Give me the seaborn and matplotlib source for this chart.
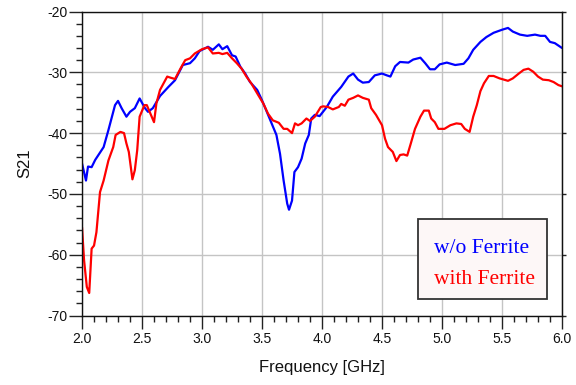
import numpy as np
import pandas as pd
import seaborn as sns
import matplotlib.pyplot as plt
from matplotlib.ticker import MultipleLocator, FormatStrFormatter
from matplotlib.patches import Rectangle

# S21 without ferrite (frequency in GHz, S21 in dB)
freq_wo = [2.00, 2.033, 2.05, 2.08, 2.11, 2.18, 2.22, 2.275, 2.30, 2.33,
           2.37, 2.40, 2.44, 2.48, 2.525, 2.55, 2.59, 2.65, 2.72, 2.775,
           2.84, 2.90, 2.94, 2.98, 3.05, 3.09, 3.14, 3.17, 3.21, 3.25,
           3.28, 3.32, 3.36, 3.40, 3.46, 3.50, 3.54, 3.58, 3.62, 3.65,
           3.68, 3.71, 3.725, 3.75, 3.77, 3.80, 3.83, 3.86, 3.89, 3.91,
           3.94, 3.98, 4.04, 4.09, 4.16, 4.22, 4.26, 4.30, 4.34, 4.39,
           4.44, 4.50, 4.54, 4.57, 4.61, 4.65, 4.72, 4.76, 4.82, 4.86,
           4.90, 4.94, 4.98, 5.04, 5.11, 5.18, 5.22, 5.26, 5.32, 5.37,
           5.43, 5.50, 5.55, 5.59, 5.65, 5.71, 5.775, 5.82, 5.86, 5.90,
           5.94, 6.00]
s21_wo = [-45.0, -47.8, -45.5, -45.6, -44.4, -42.3, -39.5, -35.4, -34.7, -35.9,
          -37.3, -36.5, -35.9, -34.3, -35.9, -36.5, -35.9, -33.9, -32.4, -31.3,
          -28.8, -28.5, -27.7, -26.5, -25.8, -26.3, -25.4, -26.2, -25.7, -27.2,
          -27.4, -29.1, -30.2, -31.6, -32.9, -34.6, -36.5, -38.4, -40.3, -43.4,
          -47.8, -51.6, -52.6, -51.1, -46.4, -45.6, -44.2, -41.7, -40.3, -37.6,
          -37.0, -37.2, -35.7, -34.0, -32.4, -30.7, -30.2, -31.2, -31.7, -31.6,
          -30.5, -30.2, -30.5, -30.7, -29.0, -28.3, -28.4, -27.9, -27.6, -28.5,
          -29.5, -29.5, -28.7, -28.4, -28.8, -28.6, -27.7, -26.3, -25.0, -24.2,
          -23.5, -23.0, -22.7, -23.3, -23.8, -24.0, -23.8, -24.0, -24.0, -25.0,
          -25.2, -26.0]

# S21 with ferrite
freq_fe = [2.00, 2.017, 2.04, 2.06, 2.08, 2.10, 2.12, 2.15, 2.18, 2.22,
           2.26, 2.28, 2.32, 2.35, 2.37, 2.39, 2.42, 2.44, 2.46, 2.48,
           2.52, 2.54, 2.57, 2.60, 2.62, 2.65, 2.71, 2.74, 2.775, 2.82,
           2.86, 2.90, 2.94, 3.00, 3.05, 3.09, 3.14, 3.17, 3.21, 3.25,
           3.29, 3.33, 3.37, 3.41, 3.47, 3.51, 3.55, 3.59, 3.64, 3.68,
           3.71, 3.75, 3.775, 3.80, 3.83, 3.87, 3.90, 3.94, 3.99, 4.01,
           4.05, 4.09, 4.14, 4.16, 4.19, 4.22, 4.26, 4.30, 4.34, 4.39,
           4.41, 4.45, 4.50, 4.525, 4.55, 4.59, 4.62, 4.65, 4.68, 4.71,
           4.74, 4.775, 4.82, 4.85, 4.89, 4.91, 4.94, 4.97, 5.02, 5.07,
           5.12, 5.16, 5.19, 5.23, 5.26, 5.29, 5.32, 5.35, 5.39, 5.43,
           5.48, 5.55, 5.59, 5.64, 5.68, 5.72, 5.76, 5.80, 5.84, 5.89,
           5.93, 5.97, 6.00]
s21_fe = [-55.5, -60.9, -65.3, -66.3, -59.0, -58.5, -56.3, -49.7, -47.8, -44.5,
          -42.3, -40.3, -39.8, -40.0, -41.7, -43.1, -47.6, -46.1, -42.8, -37.3,
          -35.4, -35.4, -36.8, -38.2, -35.1, -32.9, -30.7, -30.9, -31.1, -29.4,
          -28.0, -27.7, -26.9, -26.2, -25.9, -26.9, -26.8, -27.0, -26.8, -27.7,
          -28.5, -29.4, -30.7, -31.8, -33.8, -35.1, -36.8, -37.9, -38.3, -39.3,
          -39.3, -40.0, -38.4, -38.7, -38.4, -37.6, -38.0, -37.3, -35.7, -35.6,
          -35.7, -36.1, -35.7, -35.2, -35.5, -34.5, -34.2, -33.8, -34.2, -34.5,
          -35.9, -37.0, -38.7, -40.9, -42.3, -43.1, -44.6, -43.6, -43.5, -43.7,
          -41.7, -39.3, -37.3, -36.3, -36.3, -37.6, -38.2, -39.3, -39.3, -38.7,
          -38.4, -38.5, -39.3, -39.8, -37.3, -35.4, -33.1, -31.8, -30.6, -30.6,
          -31.0, -31.4, -31.0, -30.2, -29.6, -29.4, -29.9, -30.7, -31.2, -31.3,
          -31.6, -32.1, -32.3]

series_labels = ["w/o Ferrite", "with Ferrite"]
series_colors = ["#0000ff", "#ff0000"]

sns.set_style("white")
plt.rcParams["font.family"] = ["Liberation Sans", "DejaVu Sans"]
plt.rcParams["axes.unicode_minus"] = False

fig = plt.figure(figsize=(5.76, 3.85), dpi=100)
ax = fig.add_axes([0.1424, 0.1805, 0.8333, 0.7896])

sns.lineplot(x=freq_wo, y=s21_wo, ax=ax, color=series_colors[0], lw=1.6,
             sort=False, legend=False)
sns.lineplot(x=freq_fe, y=s21_fe, ax=ax, color=series_colors[1], lw=1.6,
             sort=False, legend=False)

ax.set_xlim(2.0, 6.0)
ax.set_ylim(-70, -20)
ax.xaxis.set_major_locator(MultipleLocator(0.5))
ax.xaxis.set_minor_locator(MultipleLocator(0.1))
ax.xaxis.set_major_formatter(FormatStrFormatter("%.1f"))
ax.yaxis.set_major_locator(MultipleLocator(10))
ax.yaxis.set_minor_locator(MultipleLocator(2))

ax.grid(which="major", color="#c4c4c4", lw=1.0)
ax.set_axisbelow(True)
ax.tick_params(which="both", bottom=True, left=True, top=False, right=False)
ax.tick_params(which="major", direction="out", length=9.5, width=1.0,
               color="#222222", labelsize=10, pad=2.5, labelcolor="#111111")
ax.tick_params(which="minor", direction="out", length=4.5, width=1.0,
               color="#222222")
ax.tick_params(axis="y", which="major", pad=1.0)

for side in ["left", "bottom", "right", "top"]:
    ax.spines[side].set_color("#111111")
    ax.spines[side].set_linewidth(1.0)

# short tick marks on the right-hand frame
sec = ax.secondary_yaxis("right")
sec.yaxis.set_major_locator(MultipleLocator(10))
sec.tick_params(which="major", right=True, direction="out", length=3,
                width=1.0, labelright=False, color="#222222")

ax.set_xlabel("Frequency [GHz]", fontsize=12, labelpad=10, color="#111111")
ax.set_ylabel("S21", fontsize=12, labelpad=11, color="#111111")

# legend box with coloured entry texts
ax.add_patch(Rectangle((0.700, 0.053), 0.268, 0.263, transform=ax.transAxes,
                       facecolor="#fdf7f7", edgecolor="#333333", lw=1.3,
                       zorder=5))
ax.text(0.733, 0.2066, series_labels[0], transform=ax.transAxes,
        color=series_colors[0], fontsize=15.5, family="Liberation Serif",
        va="baseline", ha="left", zorder=6)
ax.text(0.733, 0.1036, series_labels[1], transform=ax.transAxes,
        color=series_colors[1], fontsize=15.5, family="Liberation Serif",
        va="baseline", ha="left", zorder=6)

fig.savefig("out.png", dpi=100)
